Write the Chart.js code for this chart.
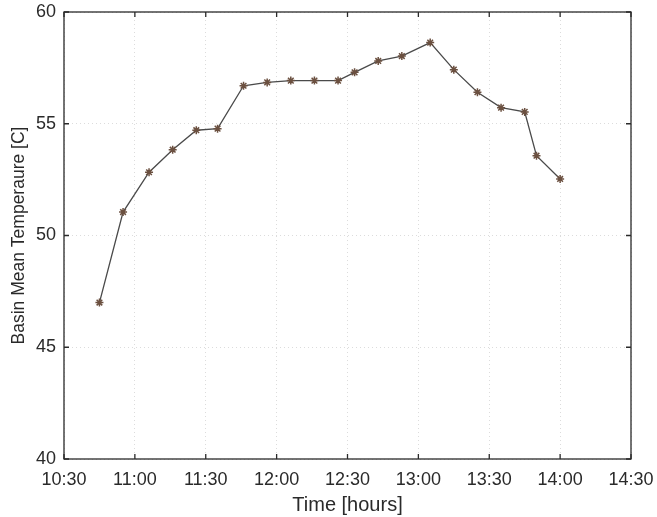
<!DOCTYPE html>
<html lang="en">
<head>
    <meta charset="UTF-8">
    <title>Basin Mean Temperature</title>
    <script src="https://cdn.jsdelivr.net/npm/chart.js"></script>
    <style>
        body {
            margin: 0;
            background: #ffffff;
        }
        .wrap {
            width: 657px;
            height: 517px;
        }
    </style>
</head>
<body>
    <div class="wrap">
        <canvas id="tempChart" width="657" height="517"></canvas>
    </div>

    <script>
        // Readings (time of day, basin mean temperature)
        const times = ["10:45", "10:55", "11:06", "11:16", "11:26", "11:35", "11:46", "11:56", "12:06", "12:16",
                       "12:26", "12:33", "12:43", "12:53", "13:05", "13:15", "13:25", "13:35", "13:45", "13:50", "14:00"];
        const temps = [47.0, 51.05, 52.83, 53.84, 54.71, 54.78, 56.7, 56.85, 56.93, 56.93,
                       56.93, 57.3, 57.81, 58.03, 58.63, 57.42, 56.41, 55.72, 55.53, 53.57, 52.53];
        const xTickLabels = ["10:30", "11:00", "11:30", "12:00", "12:30", "13:00", "13:30", "14:00", "14:30"];
        const yTicks = [40, 45, 50, 55, 60];

        const toMin = s => { const p = s.split(":"); return (+p[0]) * 60 + (+p[1]); };
        const fmt = m => Math.floor(m / 60) + ":" + String(m % 60).padStart(2, "0");

        const points = times.map((t, i) => ({ x: toMin(t), y: temps[i] }));
        const xMin = toMin(xTickLabels[0]);
        const xMax = toMin(xTickLabels[xTickLabels.length - 1]);

        const family = "Arial, 'Liberation Sans', sans-serif";
        const tickFont = { family: family, size: 18 };

        // no automatic room for overhanging labels, the layout padding decides
        const noOverhang = s => { s.paddingLeft = s.paddingRight = s.paddingTop = s.paddingBottom = 0; };

        // box around the plot with inward ticks, like matlab
        const boxPlugin = {
            id: 'box',
            afterDraw(chart) {
                const { ctx, chartArea: a, scales } = chart;
                ctx.save();
                ctx.strokeStyle = '#2a2a2a';
                ctx.lineWidth = 1.3;
                ctx.strokeRect(a.left, a.top, a.right - a.left, a.bottom - a.top);
                ctx.beginPath();
                scales.x.ticks.forEach(t => {
                    const px = scales.x.getPixelForValue(t.value);
                    ctx.moveTo(px, a.bottom); ctx.lineTo(px, a.bottom - 5);
                    ctx.moveTo(px, a.top); ctx.lineTo(px, a.top + 5);
                });
                scales.y.ticks.forEach(t => {
                    const py = scales.y.getPixelForValue(t.value);
                    ctx.moveTo(a.left, py); ctx.lineTo(a.left + 5, py);
                    ctx.moveTo(a.right, py); ctx.lineTo(a.right - 5, py);
                });
                ctx.stroke();
                ctx.restore();
            }
        };

        new Chart(document.getElementById('tempChart'), {
            type: 'line',
            data: {
                datasets: [{
                    data: points,
                    borderColor: '#4a4a4a',
                    borderWidth: 1.3,
                    pointStyle: 'star',
                    pointRadius: 4,
                    pointBorderWidth: 1.5,
                    pointBorderColor: '#6b5040',
                    pointBackgroundColor: '#6b5040',
                    tension: 0
                }]
            },
            options: {
                responsive: false,
                animation: false,
                layout: { padding: { top: 12, right: 26, left: 0, bottom: 0 } },
                plugins: {
                    legend: { display: false },
                    tooltip: { enabled: false }
                },
                scales: {
                    x: {
                        type: 'linear',
                        min: xMin,
                        max: xMax,
                        afterBuildTicks: s => { s.ticks = xTickLabels.map(l => ({ value: toMin(l) })); },
                        afterFit: s => { s.height = 58; noOverhang(s); },
                        ticks: {
                            callback: v => fmt(v),
                            color: '#2a2a2a',
                            font: tickFont,
                            padding: 10,
                            maxRotation: 0
                        },
                        grid: { color: '#dcdcdc', drawTicks: false },
                        border: { display: false, dash: [1, 3] },
                        title: {
                            display: true,
                            text: 'Time [hours]',
                            color: '#2a2a2a',
                            font: { family: family, size: 20 },
                            padding: { top: 0, bottom: 0 }
                        }
                    },
                    y: {
                        min: 40,
                        max: 60,
                        afterBuildTicks: s => { s.ticks = yTicks.map(v => ({ value: v })); },
                        afterFit: s => { s.width = 64; noOverhang(s); },
                        ticks: {
                            color: '#2a2a2a',
                            font: tickFont,
                            padding: 8
                        },
                        grid: { color: '#dcdcdc', drawTicks: false },
                        border: { display: false, dash: [1, 3] },
                        title: {
                            display: true,
                            text: 'Basin Mean Temperaure [C]',
                            color: '#2a2a2a',
                            font: { family: family, size: 17.5 },
                            padding: { top: 9, bottom: 0 }
                        }
                    }
                }
            },
            plugins: [boxPlugin]
        });
    </script>
</body>
</html>
